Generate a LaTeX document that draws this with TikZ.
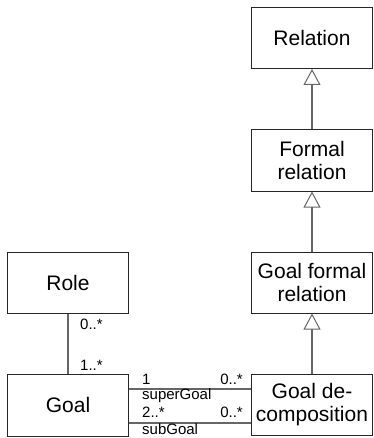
\documentclass[tikz,border=0pt]{standalone}
\usepackage{fontspec}
\setmainfont{Liberation Sans}
\usetikzlibrary{arrows.meta}
\begin{document}
\begin{tikzpicture}[x=1pt,y=-1pt,
  classbox/.style={draw=black!85,line width=1pt,minimum width=121pt,minimum height=61pt,
    align=center,inner sep=0pt,font=\fontsize{21}{23}\selectfont},
  link/.style={draw=black!60,line width=1.1pt},
  gen/.style={link,-{Triangle[open,length=16pt,width=17pt,line width=1pt]}},
  mult/.style={font=\fontsize{15}{16}\selectfont,inner sep=0pt}]
\useasboundingbox (0,0) rectangle (373,438);
% classes
\node[classbox] (rel) at (312,38) {Relation};
\node[classbox] (frel) at (312,160.5) {Formal\\relation};
\node[classbox] (gfrel) at (312,282.5) {Goal formal\\relation};
\node[classbox] (gdec) at (312,404.5) {Goal de-\\composition};
\node[classbox] (role) at (68,282.5) {Role};
\node[classbox,minimum height=62pt] (goal) at (68,405) {Goal};
% generalizations
\draw[gen] (frel) -- (rel);
\draw[gen] (gfrel) -- (frel);
\draw[gen] (gdec) -- (gfrel);
% associations
\draw[link] (role) -- (goal);
\coordinate (sup) at ([yshift=-18pt]goal.east);
\coordinate (sub) at ([yshift=16pt]goal.east);
\draw[link] (sup) -- (sup -| gdec.west);
\draw[link] (sub) -- (sub -| gdec.west);
% multiplicities and role names
\node[mult,anchor=west] (m1) at (80,324) {0..*};
\node[mult,anchor=west] (m2) at (80,365) {1..*};
\node[mult,anchor=west] (m3) at (142,379) {1};
\node[mult,anchor=east] (m4) at (243,379) {0..*};
\node[mult,anchor=west] (m5) at (142,395.5) {superGoal};
\node[mult,anchor=west] (m6) at (142,412) {2..*};
\node[mult,anchor=east] (m7) at (243,412) {0..*};
\node[mult,anchor=west] (m8) at (142,429.5) {subGoal};
\end{tikzpicture}
\end{document}
